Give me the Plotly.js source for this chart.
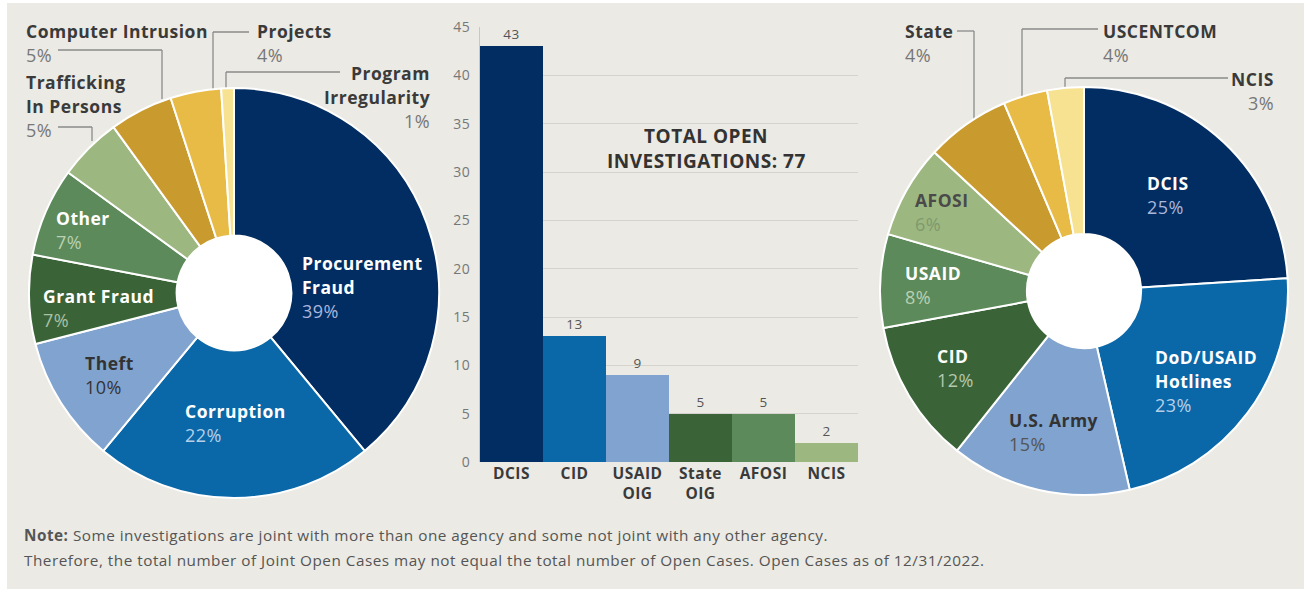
<!DOCTYPE html>
<html>
<head>
<meta charset="utf-8">
<script src="https://cdn.plot.ly/plotly-3.0.1.min.js"></script>
<style>
html,body{margin:0;padding:0;background:#ffffff;}
#chart{width:1304px;height:589px;}
svg text{letter-spacing:0.5px;}
</style>
</head>
<body>
<div id="chart"></div>
<script>
// ---- data ----
const caseLabels = ['Procurement<br>Fraud', 'Corruption', 'Theft', 'Grant Fraud', 'Other', 'Trafficking<br>In Persons', 'Computer Intrusion', 'Projects', 'Program<br>Irregularity'];
const casePct = [39, 22, 10, 7, 7, 5, 5, 4, 1];
const agencyLabels = ['DCIS', 'DoD/USAID<br>Hotlines', 'U.S. Army', 'CID', 'USAID', 'AFOSI', 'State', 'USCENTCOM', 'NCIS'];
const agencyPct = [25, 23, 15, 12, 8, 6, 4, 4, 3];
// slice sizes as drawn in the right-hand ring
const agencyShare = [24, 22.4, 14.3, 11.4, 7.4, 7.4, 6.7, 3.5, 2.9];
const barAgencies = ['DCIS', 'CID', 'USAID<br>OIG', 'State<br>OIG', 'AFOSI', 'NCIS'];
const barCounts = [43, 13, 9, 5, 5, 2];
const totalLines = ['TOTAL OPEN', 'INVESTIGATIONS: 77'];
const noteBold = 'Note:';
const noteLine1 = ' Some investigations are joint with more than one agency and some not joint with any other agency.';
const noteLine2 = 'Therefore, the total number of Joint Open Cases may not equal the total number of Open Cases. Open Cases as of 12/31/2022.';

// ---- styles ----
const NAVY = '#022d62', MBLUE = '#0a67a8', LBLUE = '#80a3cf';
const DGREEN = '#3a6438', MGREEN = '#5c8a5a', LGREEN = '#9db780';
const DGOLD = '#c99a2e', GOLD = '#e8bb46', PALE = '#f7e291';
const pieColors = [NAVY, MBLUE, LBLUE, DGREEN, MGREEN, LGREEN, DGOLD, GOLD, PALE];
const barColors = [NAVY, MBLUE, LBLUE, DGREEN, MGREEN, LGREEN];
const BG = '#ebeae4';
const FONT = 'Open Sans, Noto Sans, sans-serif';

const W = 1304, H = 589;
const px = x => x / W;
const py = y => 1 - y / H;

// label placement (pixels): first line center
const caseLabelPos = [
  {x: 300, y: 263, a: 'left', n: '#ffffff', p: '#aab6da'},
  {x: 183, y: 411, a: 'left', n: '#ffffff', p: '#b7d0e8'},
  {x: 83, y: 363, a: 'left', n: '#333333', p: '#333333'},
  {x: 41, y: 296, a: 'left', n: '#ffffff', p: '#a9c0a4'},
  {x: 54, y: 218, a: 'left', n: '#ffffff', p: '#b9d0b2'},
  {x: 24, y: 82, a: 'left', n: '#3a3a3a', p: '#777777'},
  {x: 24, y: 31, a: 'left', n: '#3a3a3a', p: '#777777'},
  {x: 255, y: 31, a: 'left', n: '#3a3a3a', p: '#777777'},
  {x: 432, y: 73, a: 'right', n: '#3a3a3a', p: '#777777'}
];
const agencyLabelPos = [
  {x: 1145, y: 183, a: 'left', n: '#ffffff', p: '#aab6da'},
  {x: 1153, y: 357, a: 'left', n: '#ffffff', p: '#b7d0e8'},
  {x: 1007, y: 420, a: 'left', n: '#333333', p: '#555555'},
  {x: 935, y: 356, a: 'left', n: '#ffffff', p: '#b4c8ad'},
  {x: 903, y: 273, a: 'left', n: '#ffffff', p: '#b9d0b2'},
  {x: 913, y: 200, a: 'left', n: '#4a4a4a', p: '#7d9a6d'},
  {x: 903, y: 31, a: 'left', n: '#3a3a3a', p: '#777777'},
  {x: 1101, y: 31, a: 'left', n: '#3a3a3a', p: '#777777'},
  {x: 1276, y: 79, a: 'right', n: '#3a3a3a', p: '#777777'}
];
const LINE_GAP = 24;

const annotations = [];
function addLabels(labels, pcts, pos) {
  labels.forEach((lab, i) => {
    const s = pos[i];
    const lines = lab.split('<br>');
    lines.forEach((ln, j) => {
      annotations.push({xref: 'paper', yref: 'paper', x: px(s.x), y: py(s.y + j * LINE_GAP),
        xanchor: s.a, yanchor: 'middle', showarrow: false, text: '<b>' + ln + '</b>',
        font: {family: FONT, size: 17.5, color: s.n}});
    });
    annotations.push({xref: 'paper', yref: 'paper', x: px(s.x), y: py(s.y + lines.length * LINE_GAP),
      xanchor: s.a, yanchor: 'middle', showarrow: false, text: pcts[i] + '%',
      font: {family: FONT, size: 18, color: s.p}});
  });
}
addLabels(caseLabels, casePct, caseLabelPos);
addLabels(agencyLabels, agencyPct, agencyLabelPos);

totalLines.forEach((t, j) => {
  annotations.push({xref: 'paper', yref: 'paper', x: px(706), y: py(136 + j * 25), xanchor: 'center', yanchor: 'middle',
    showarrow: false, text: '<b>' + t + '</b>', font: {family: FONT, size: 19, color: '#333333'}});
});
annotations.push({xref: 'paper', yref: 'paper', x: px(22), y: py(535), xanchor: 'left', yanchor: 'middle', showarrow: false,
  text: '<b>' + noteBold + '</b>' + noteLine1, font: {family: FONT, size: 15.3, color: '#555555'}});
annotations.push({xref: 'paper', yref: 'paper', x: px(22), y: py(560), xanchor: 'left', yanchor: 'middle', showarrow: false,
  text: noteLine2, font: {family: FONT, size: 15.3, color: '#555555'}});

// leader lines (pixel polylines)
const leaders = [
  [[58, 50], [162, 50], [162, 99]],
  [[58, 127], [92, 127], [92, 141]],
  [[249, 32], [213, 32], [213, 89]],
  [[340, 72], [226, 72], [226, 89]],
  [[957, 31], [974, 31], [974, 119]],
  [[1098, 29], [1022, 29], [1022, 96]],
  [[1228, 78], [1065, 78], [1065, 90]]
];
const shapes = [
  {type: 'rect', xref: 'paper', yref: 'paper', x0: px(7), x1: 1, y0: 0, y1: py(3), fillcolor: BG, line: {width: 0}, layer: 'below'}
];
leaders.forEach(pts => {
  for (let k = 0; k < pts.length - 1; k++) {
    shapes.push({type: 'line', xref: 'paper', yref: 'paper', x0: px(pts[k][0]), y0: py(pts[k][1]),
      x1: px(pts[k + 1][0]), y1: py(pts[k + 1][1]), line: {color: '#8a8a8a', width: 1.3}, layer: 'below'});
  }
});
// white centers
[[234, 293, 57], [1084, 291, 57]].forEach(c => {
  shapes.push({type: 'circle', xref: 'paper', yref: 'paper', x0: px(c[0] - c[2]), x1: px(c[0] + c[2]),
    y0: py(c[1] + c[2]), y1: py(c[1] - c[2]), fillcolor: '#ffffff', line: {width: 0}, layer: 'below'});
});

const traces = [
  {type: 'pie', labels: caseLabels, values: casePct, sort: false, direction: 'clockwise', rotation: 0, hole: 0.28,
    textinfo: 'none', hoverinfo: 'label+percent', showlegend: false,
    marker: {colors: pieColors, line: {color: '#ffffff', width: 2}},
    domain: {x: [px(29), px(439)], y: [py(498), py(88)]}},
  {type: 'pie', labels: agencyLabels, values: agencyShare, sort: false, direction: 'clockwise', rotation: 0, hole: 0.28,
    textinfo: 'none', hoverinfo: 'label', showlegend: false,
    marker: {colors: pieColors, line: {color: '#ffffff', width: 2}},
    domain: {x: [px(880), px(1288)], y: [py(495), py(87)]}},
  {type: 'bar', x: barAgencies, y: barCounts, marker: {color: barColors, line: {width: 0}},
    texttemplate: '%{y}', textposition: 'outside', cliponaxis: false,
    textfont: {family: FONT, size: 13.5, color: '#555555'}, showlegend: false, hoverinfo: 'x+y'}
];

const layout = {
  width: W, height: H,
  margin: {l: 0, r: 0, t: 0, b: 0},
  paper_bgcolor: '#ffffff', plot_bgcolor: 'rgba(0,0,0,0)',
  font: {family: FONT},
  bargap: 0,
  xaxis: {domain: [px(480), px(858)], showgrid: false, zeroline: false, showline: false, ticks: '',
    tickfont: {family: FONT, size: 15.5, color: '#3a3a3a', weight: 'bold'}, fixedrange: true},
  yaxis: {domain: [py(462), py(27)], range: [0, 45], dtick: 5, showgrid: true, gridcolor: '#d4d3cd', gridwidth: 1,
    zeroline: false, showline: true, linecolor: '#c8c8c2', linewidth: 1, ticks: '', ticklabelstandoff: 6,
    tickfont: {family: FONT, size: 14, color: '#777777'}, fixedrange: true},
  annotations: annotations,
  shapes: shapes
};

Plotly.newPlot('chart', traces, layout, {displayModeBar: false, staticPlot: true});
</script>
</body>
</html>
